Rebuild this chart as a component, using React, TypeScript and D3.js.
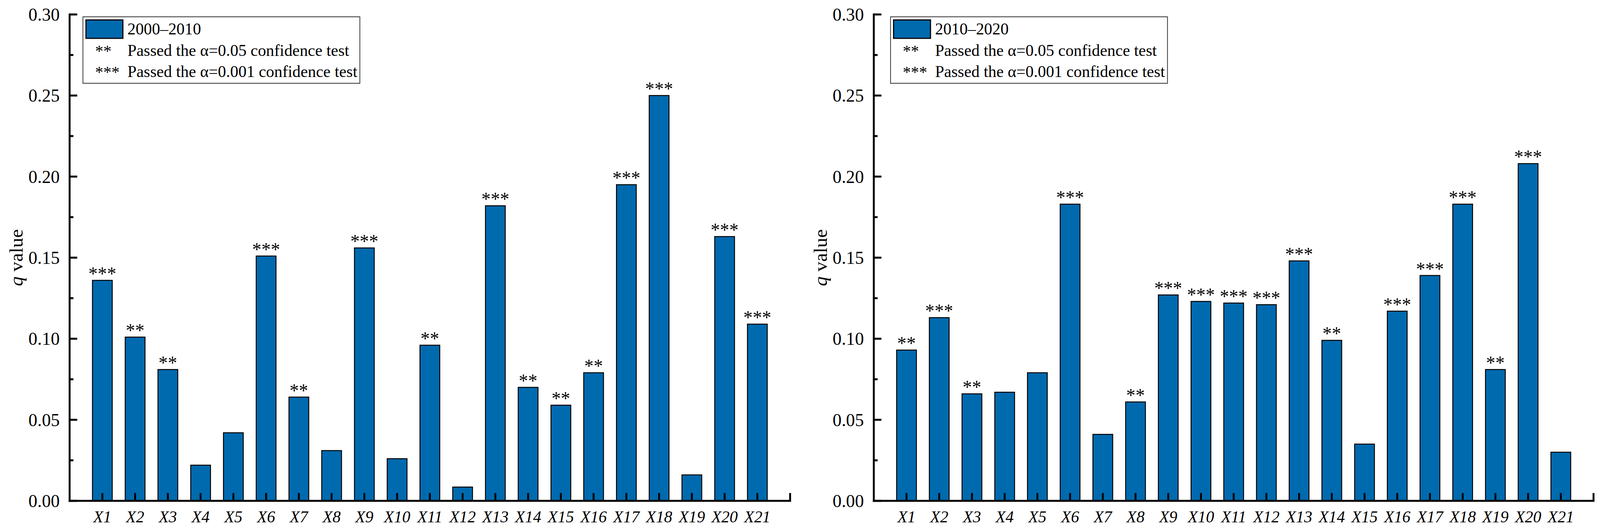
import React, { useEffect } from "react";
import * as d3 from "d3";

const categories = ["X1","X2","X3","X4","X5","X6","X7","X8","X9","X10","X11","X12","X13","X14","X15","X16","X17","X18","X19","X20","X21"];
const q2000 = [0.136,0.101,0.081,0.022,0.042,0.151,0.064,0.031,0.156,0.026,0.096,0.0085,0.182,0.070,0.059,0.079,0.195,0.250,0.016,0.163,0.109];
const sig2000 = [3,2,2,0,0,3,2,0,3,0,2,0,3,2,2,2,3,3,0,3,3];
const q2010 = [0.093,0.113,0.066,0.067,0.079,0.183,0.041,0.061,0.127,0.123,0.122,0.121,0.148,0.099,0.035,0.117,0.139,0.183,0.081,0.208,0.030];
const sig2010 = [2,3,2,0,0,3,0,2,3,3,3,3,3,2,0,3,3,3,2,3,0];
const yMajor = [0, 0.05, 0.10, 0.15, 0.20, 0.25, 0.30];
const yMinor = [0.025, 0.075, 0.125, 0.175, 0.225, 0.275];
const periods = ["2000–2010", "2010–2020"];
const legendTexts = ["Passed the α=0.05 confidence test", "Passed the α=0.001 confidence test"];

const BLUE = "#006aaf";
const FONT = "'Liberation Serif', 'Times New Roman', serif";

const y = d3.scaleLinear().domain([0, 0.3]).range([1281, 37]);

function Panel({ x0, x1, values, sig, period, legendX, labelX }: any) {
  const x = d3.scaleLinear().domain([0, categories.length + 1]).range([x0, x1]);
  const bw = 52;
  return (
    <g>
      {values.map((v: number, i: number) => {
        const cx = x(i + 1);
        return (
          <rect key={"b" + i} x={cx - bw / 2} y={y(v)} width={bw} height={y(0) - y(v)}
            fill={BLUE} stroke="#000" strokeWidth={2.5} />
        );
      })}
      {values.map((v: number, i: number) =>
        sig[i] > 0 ? (
          <text key={"s" + i} x={x(i + 1)} y={y(v) - 1} textAnchor="middle"
            fontFamily={FONT} fontSize={49}>{"*".repeat(sig[i])}</text>
        ) : null
      )}
      {categories.map((c, i) => (
        <line key={"xt" + i} x1={x(i + 1)} x2={x(i + 1)} y1={y(0)} y2={y(0) - 20} stroke="#000" strokeWidth={5} />
      ))}
      <line x1={x1} x2={x1} y1={y(0)} y2={y(0) - 20} stroke="#000" strokeWidth={5} />
      {categories.map((c, i) => (
        <text key={"xl" + i} x={x(i + 1)} y={1336} textAnchor="middle" fontFamily={FONT}
          fontStyle="italic" fontSize={43}>{c}</text>
      ))}
      {yMajor.map((t) => (
        <g key={"ym" + t}>
          <line x1={x0} x2={x0 + 20} y1={y(t)} y2={y(t)} stroke="#000" strokeWidth={5} />
          <text x={x0 - 26} y={y(t) + 16} textAnchor="end" fontFamily={FONT} fontSize={47}>{t.toFixed(2)}</text>
        </g>
      ))}
      {yMinor.map((t) => (
        <line key={"yn" + t} x1={x0} x2={x0 + 10} y1={y(t)} y2={y(t)} stroke="#000" strokeWidth={5} />
      ))}
      <line x1={x0} x2={x0} y1={y(0.3) - 2.5} y2={y(0) + 2.5} stroke="#000" strokeWidth={5} />
      <line x1={x0 - 2.5} x2={x1 + 2.5} y1={y(0)} y2={y(0)} stroke="#000" strokeWidth={5} />
      <text transform={`translate(${labelX},${(y(0) + y(0.3)) / 2}) rotate(-90)`} textAnchor="middle"
        fontFamily={FONT} fontSize={50} dy={17}>
        <tspan fontStyle="italic">q</tspan> value
      </text>
      <g transform={`translate(${legendX},43)`}>
        <rect x={0} y={0} width={728} height={170} fill="#fff" stroke="#333" strokeWidth={2} />
        <rect x={8} y={8} width={97} height={47} fill={BLUE} stroke="#000" strokeWidth={3} />
        <text x={117} y={45} fontFamily={FONT} fontSize={43}>{period}</text>
        <text x={32} y={102} fontFamily={FONT} fontSize={43}>**</text>
        <text x={117} y={100} fontFamily={FONT} fontSize={43}>{legendTexts[0]}</text>
        <text x={32} y={156} fontFamily={FONT} fontSize={43}>***</text>
        <text x={117} y={154} fontFamily={FONT} fontSize={43}>{legendTexts[1]}</text>
      </g>
    </g>
  );
}

export default function App() {
  useEffect(() => {
    document.body.style.margin = "0";
    document.body.style.overflow = "hidden";
    document.documentElement.style.overflow = "hidden";
  }, []);
  return (
    <svg viewBox="0 0 4206 1353" preserveAspectRatio="none"
      style={{ position: "fixed", left: 0, top: 0, width: "100vw", height: "100vh", background: "#fff", display: "block" }}>
      <rect width={4206} height={1353} fill="#fff" />
      <Panel x0={183} x1={2077} values={q2000} sig={sig2000} period={periods[0]} legendX={218} labelX={43} />
      <Panel x0={2297} x1={4189} values={q2010} sig={sig2010} period={periods[1]} legendX={2341} labelX={2157} />
    </svg>
  );
}
